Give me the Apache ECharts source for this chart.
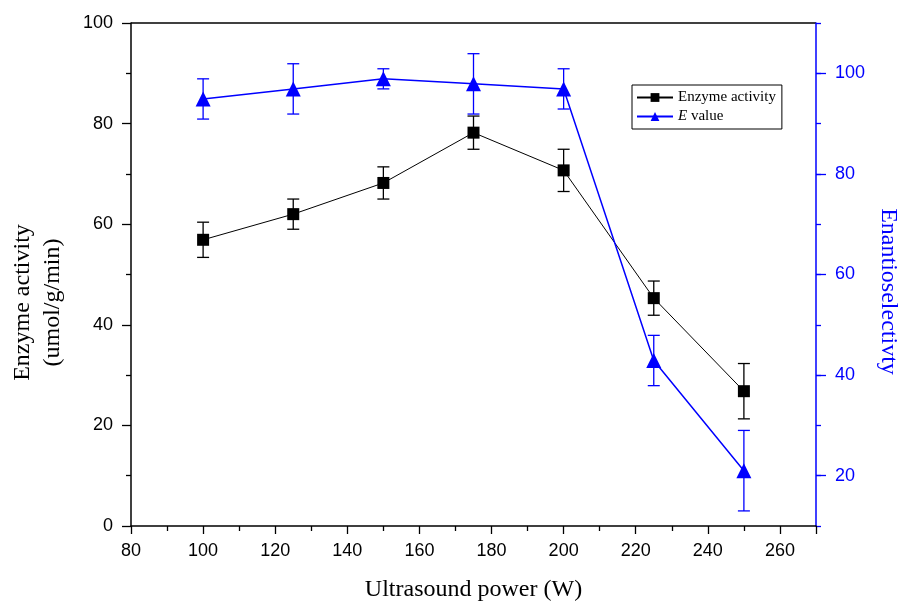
<!DOCTYPE html>
<html><head><meta charset="utf-8">
<script src="https://cdn.jsdelivr.net/npm/echarts@6/dist/echarts.min.js"></script>
<style>html,body{margin:0;padding:0;background:#fff}#c{width:901px;height:603px}</style>
</head><body><div id="c"></div>
<script>
const powers = [100, 125, 150, 175, 200, 225, 250];
const enzymeActivity = [56.9, 62.0, 68.2, 78.2, 70.7, 45.3, 26.8];
const enzymeErr = [3.5, 3.0, 3.2, 3.3, 4.2, 3.4, 5.5];
const eValue = [94.9, 96.9, 98.9, 97.9, 96.9, 42.9, 21.0];
const eErr = [4.0, 5.0, 2.0, 6.0, 4.0, 5.0, 8.0];
const rightLabels = [20, 40, 60, 80, 100];

const serif = 'Liberation Serif';
const sans = 'Liberation Sans';

function errSeries(vals, errs, yIdx, color) {
  return {
    type: 'custom', yAxisIndex: yIdx, silent: true, z: 1,
    data: powers.map((p, i) => [p, vals[i] - errs[i], vals[i] + errs[i]]),
    renderItem: function (params, api) {
      const lo = api.coord([api.value(0), api.value(1)]);
      const hi = api.coord([api.value(0), api.value(2)]);
      const w = 6;
      const st = { stroke: color, lineWidth: 1.3 };
      return { type: 'group', children: [
        { type: 'line', shape: { x1: lo[0], y1: lo[1], x2: hi[0], y2: hi[1] }, style: st },
        { type: 'line', shape: { x1: lo[0] - w, y1: lo[1], x2: lo[0] + w, y2: lo[1] }, style: st },
        { type: 'line', shape: { x1: hi[0] - w, y1: hi[1], x2: hi[0] + w, y2: hi[1] }, style: st }
      ]};
    }
  };
}

const chart = echarts.init(document.getElementById('c'));
chart.setOption({
  animation: false,
  backgroundColor: '#fff',
  grid: { left: 131, right: 85, top: 23, bottom: 77, containLabel: false, outerBoundsMode: 'none' },
  legend: {
    left: 632, top: 85, orient: 'vertical', itemGap: 4,
    itemWidth: 36, itemHeight: 11,
    borderColor: '#000', borderWidth: 1, borderRadius: 0,
    padding: [5, 6, 5, 4],
    textStyle: { fontFamily: serif, fontSize: 15, color: '#000',
      rich: { i: { fontFamily: serif, fontStyle: 'italic', fontSize: 15, color: '#000' } } },
    formatter: function (n) { return n === 'E value' ? '{i|E} value' : n; },
    data: ['Enzyme activity', 'E value']
  },
  xAxis: {
    type: 'value', min: 80, max: 270, interval: 20,
    name: 'Ultrasound power (W)', nameLocation: 'middle', nameGap: 52,
    nameTextStyle: { fontFamily: serif, fontSize: 24, color: '#000' },
    axisLine: { show: true, onZero: false, lineStyle: { color: '#000', width: 1.5 } },
    axisTick: { show: true, length: 8, lineStyle: { color: '#000', width: 1.3 } },
    minorTick: { show: true, splitNumber: 2, length: 5, lineStyle: { color: '#000', width: 1.3 } },
    axisLabel: { fontFamily: sans, fontSize: 18, color: '#000', margin: 16,
      formatter: v => (v % 20 === 0 ? String(v) : '') },
    splitLine: { show: false }, minorSplitLine: { show: false }
  },
  yAxis: [{
    type: 'value', min: 0, max: 100, interval: 20, position: 'left',
    name: 'Enzyme activity\n(umol/g/min)', nameLocation: 'middle', nameGap: 63,
    nameTextStyle: { fontFamily: serif, fontSize: 24, color: '#000', lineHeight: 30,
      padding: [0, 56, 0, 0] },
    axisLine: { show: true, lineStyle: { color: '#000', width: 1.5 } },
    axisTick: { show: true, length: 9, lineStyle: { color: '#000', width: 1.3 } },
    minorTick: { show: true, splitNumber: 2, length: 5, lineStyle: { color: '#000', width: 1.3 } },
    axisLabel: { fontFamily: sans, fontSize: 18, color: '#000', margin: 18 },
    splitLine: { show: false }, minorSplitLine: { show: false }
  }, {
    type: 'value', min: 10, max: 110, interval: 10, position: 'right',
    name: 'Enantioselectivty', nameLocation: 'middle', nameGap: 57, nameRotate: -90,
    nameTextStyle: { fontFamily: serif, fontSize: 24, color: '#0000ff', padding: [0, 0, 0, 34] },
    axisLine: { show: true, lineStyle: { color: '#0000ff', width: 1.5 } },
    axisTick: { show: true, length: 10, customValues: rightLabels, lineStyle: { color: '#0000ff', width: 1.3 } },
    axisLabel: { fontFamily: sans, fontSize: 18, color: '#0000ff', margin: 19, customValues: rightLabels },
    splitLine: { show: false }
  }, {
    type: 'value', min: 10, max: 110, interval: 10, position: 'right',
    axisLine: { show: false },
    axisTick: { show: true, length: 5, lineStyle: { color: '#0000ff', width: 1.3 } },
    axisLabel: { show: false },
    splitLine: { show: false }
  }],
  graphic: [{
    type: 'line', shape: { x1: 131, y1: 23, x2: 816, y2: 23 },
    style: { stroke: '#000', lineWidth: 1.5 }
  }],
  series: [
    errSeries(enzymeActivity, enzymeErr, 0, '#000'),
    errSeries(eValue, eErr, 1, '#0000ff'),
    {
      name: 'Enzyme activity', type: 'line', yAxisIndex: 0, z: 3,
      data: powers.map((p, i) => [p, enzymeActivity[i]]),
      symbol: 'rect', symbolSize: 12,
      lineStyle: { color: '#000', width: 1 },
      itemStyle: { color: '#000' }
    },
    {
      name: 'E value', type: 'line', yAxisIndex: 1, z: 3,
      data: powers.map((p, i) => [p, eValue[i]]),
      symbol: 'triangle', symbolSize: 15,
      lineStyle: { color: '#0000ff', width: 1.5 },
      itemStyle: { color: '#0000ff' }
    }
  ]
});
</script></body></html>
